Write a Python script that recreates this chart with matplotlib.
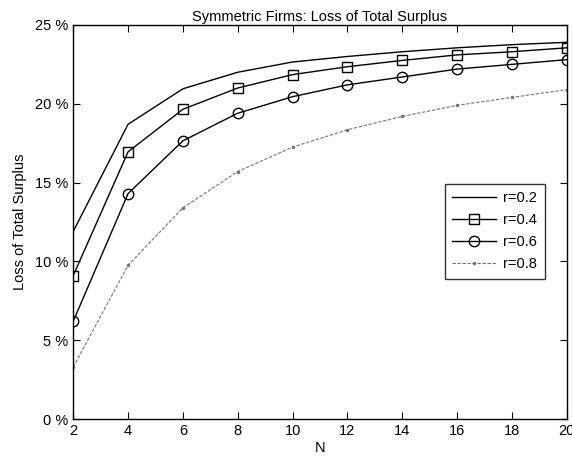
import numpy as np
import matplotlib.pyplot as plt
from matplotlib.ticker import FuncFormatter

plt.rcParams['font.family'] = ['Liberation Sans', 'DejaVu Sans']

# Loss of total surplus (%) against number of firms N
N = [2, 4, 6, 8, 10, 12, 14, 16, 18, 20]
loss_r02 = [11.9, 18.7, 20.95, 22.0, 22.65, 23.0, 23.3, 23.55, 23.75, 23.9]
loss_r04 = [9.1, 16.95, 19.65, 21.0, 21.85, 22.35, 22.75, 23.1, 23.3, 23.55]
loss_r06 = [6.2, 14.3, 17.65, 19.4, 20.45, 21.2, 21.7, 22.2, 22.5, 22.8]
loss_r08 = [3.3, 9.75, 13.4, 15.7, 17.25, 18.35, 19.2, 19.9, 20.4, 20.9]
labels = ['r=0.2', 'r=0.4', 'r=0.6', 'r=0.8']

fig = plt.figure(figsize=(5.72, 4.62), dpi=100)
ax = fig.add_axes([0.128, 0.093, 0.863, 0.853])

ax.plot(N, loss_r02, color='black', lw=1.0, label=labels[0])
ax.plot(N, loss_r04, color='black', lw=1.0, marker='s', ms=7.5,
        fillstyle='none', mew=1.0, label=labels[1])
ax.plot(N, loss_r06, color='black', lw=1.0, marker='o', ms=7.5,
        fillstyle='none', mew=1.0, label=labels[2])
ax.plot(N, loss_r08, color='0.45', lw=0.8, ls=(0, (3, 1.5)), marker='.',
        ms=3, label=labels[3])

ax.set_xlim(2, 20)
ax.set_ylim(0, 25)
ax.set_xticks(range(2, 21, 2))
ax.set_yticks(range(0, 26, 5))
ax.yaxis.set_major_formatter(FuncFormatter(lambda v, p: f'{v:.0f} %'))
ax.tick_params(direction='in', top=True, right=True, labelsize=10.5,
               length=5, width=0.8)
for s in ax.spines.values():
    s.set_linewidth(1.0)

ax.set_xlabel('N', fontsize=10.5, labelpad=2)
ax.set_ylabel('Loss of Total Surplus', fontsize=10.5, labelpad=6)
ax.set_title('Symmetric Firms: Loss of Total Surplus', fontsize=10.5, pad=3)

leg = ax.legend(loc='center right', bbox_to_anchor=(0.955, 0.476),
                borderaxespad=0, fontsize=10.5, frameon=True, fancybox=False,
                edgecolor='black', handlelength=3.0, borderpad=0.5,
                labelspacing=0.55, handletextpad=0.5)
leg.get_frame().set_linewidth(1.0)

fig.savefig('out.png', dpi=100)
